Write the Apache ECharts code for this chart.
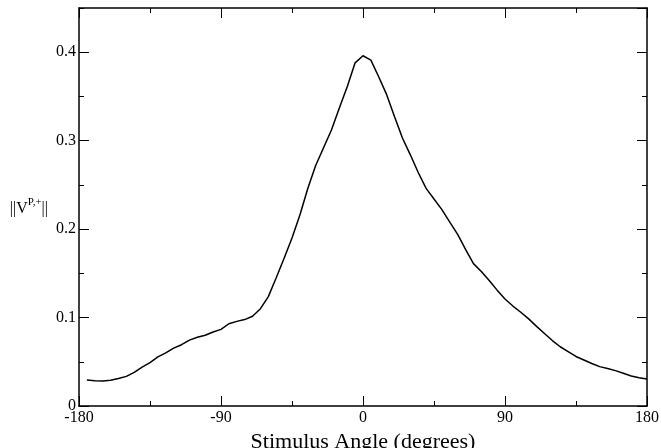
<!DOCTYPE html>
<html>
<head>
<meta charset="utf-8">
<script src="https://cdn.jsdelivr.net/npm/echarts@6/dist/echarts.min.js"></script>
<style>html,body{margin:0;padding:0;background:#fff}#c{width:661px;height:448px}</style>
</head>
<body>
<div id="c"></div>
<script>
var angles = [-175,-170,-165,-160,-155,-150,-145,-140,-135,-130,-125,-120,-115,-110,-105,-100,-95,-90,-85,-80,-75,-70,-65,-60,-55,-50,-45,-40,-35,-30,-25,-20,-15,-10,-5,0,5,10,15,20,25,30,35,40,45,50,55,60,65,70,75,80,85,90,95,100,105,110,115,120,125,130,135,140,145,150,155,160,165,170,175,180];
var values = [0.0294,0.0285,0.0283,0.0290,0.0310,0.0335,0.0380,0.0440,0.0490,0.0555,0.0600,0.0655,0.0693,0.0745,0.0777,0.0800,0.0836,0.0866,0.0930,0.0957,0.0977,0.1014,0.1100,0.1237,0.1450,0.1670,0.1900,0.2160,0.2460,0.2720,0.2920,0.3120,0.3370,0.3610,0.3880,0.3960,0.3910,0.3720,0.3520,0.3270,0.3030,0.2840,0.2640,0.2460,0.2340,0.2220,0.2080,0.1940,0.1770,0.1610,0.1520,0.1420,0.1310,0.1210,0.1130,0.1060,0.0985,0.0900,0.0820,0.0740,0.0670,0.0615,0.0560,0.0520,0.0480,0.0445,0.0425,0.0400,0.0370,0.0340,0.0320,0.0305];
var xTickLabels = ['-180','-90','0','90','180'];
var yTickLabels = ['0','0.1','0.2','0.3','0.4'];

var data = angles.map(function(a, i){ return [a, values[i]]; });
var serif = 'Liberation Serif';
var black = '#000';

var chart = echarts.init(document.getElementById('c'), null, {renderer: 'canvas'});
var xBase = {
  type: 'value', min: -180, max: 180, interval: 90,
  axisLine: {show: true, onZero: false, lineStyle: {color: black, width: 1.5}},
  axisTick: {show: true, inside: true, length: 10, lineStyle: {color: black, width: 1}},
  minorTick: {show: true, splitNumber: 2, length: 5, lineStyle: {color: black, width: 1}},
  splitLine: {show: false}, minorSplitLine: {show: false}
};
var yMajor = {
  type: 'value', min: 0, max: 0.45, interval: 0.1,
  axisLine: {show: true, onZero: false, lineStyle: {color: black, width: 1.5}},
  axisTick: {show: true, inside: true, length: 10, lineStyle: {color: black, width: 1}},
  splitLine: {show: false}
};
var yMinor = {
  type: 'value', min: 0, max: 0.45, interval: 0.05,
  axisLine: {show: false, onZero: false},
  axisTick: {show: true, inside: true, length: 5, lineStyle: {color: black, width: 1}},
  axisLabel: {show: false},
  splitLine: {show: false}
};
function ext(a, b){ return Object.assign({}, a, b); }

chart.setOption({
  animation: false,
  backgroundColor: '#fff',
  grid: {left: 79, right: 14, top: 8, bottom: 42, containLabel: false, outerBoundsMode: 'none'},
  xAxis: [
    ext(xBase, {
      position: 'bottom',
      axisLabel: {show: true, color: black, fontFamily: serif, fontSize: 16, margin: 4,
        formatter: function(v){ var s = String(v); return xTickLabels.indexOf(s) >= 0 ? s : ''; }},
      name: 'Stimulus Angle (degrees)', nameLocation: 'middle', nameGap: 23,
      nameTextStyle: {color: black, fontFamily: serif, fontSize: 22}
    }),
    ext(xBase, {position: 'top', axisLabel: {show: false}})
  ],
  yAxis: [
    ext(yMajor, {
      position: 'left',
      axisLabel: {show: true, color: black, fontFamily: serif, fontSize: 16, margin: 3, showMaxLabel: false,
        formatter: function(v){ var s = String(Math.round(v*100)/100); return yTickLabels.indexOf(s) >= 0 ? s : ''; }},
      name: '{n|||V}{s|P,+}{n|||}', nameLocation: 'middle', nameRotate: 0, nameGap: 31,
      nameTextStyle: {color: black, rich: {
        n: {fontFamily: serif, fontSize: 16, color: black, verticalAlign: 'bottom', lineHeight: 20},
        s: {fontFamily: serif, fontSize: 11, color: black, verticalAlign: 'top', lineHeight: 20}
      }}
    }),
    ext(yMajor, {position: 'right', axisLabel: {show: false}}),
    ext(yMinor, {position: 'left'}),
    ext(yMinor, {position: 'right'})
  ],
  series: [{
    type: 'line', data: data, xAxisIndex: 0, yAxisIndex: 0,
    showSymbol: false, symbol: 'none', smooth: false,
    lineStyle: {color: black, width: 1.5}
  }]
});
</script>
</body>
</html>
